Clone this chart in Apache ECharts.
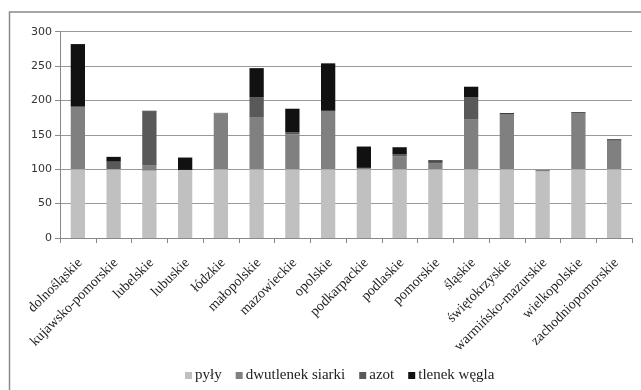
<!DOCTYPE html>
<html><head><meta charset="utf-8">
<script src="https://cdn.jsdelivr.net/npm/echarts@6/dist/echarts.min.js"></script>
<style>html,body{margin:0;padding:0;background:#fff}#c{width:641px;height:390px}</style>
</head><body><div id="c"></div>
<script>
const categories = ['dolnośląskie','kujawsko-pomorskie','lubelskie','lubuskie','łódzkie','małopolskie','mazowieckie','opolskie','podkarpackie','podlaskie','pomorskie','śląskie','świętokrzyskie','warmińsko-mazurskie','wielkopolskie','zachodniopomorskie'];
const seriesNames = ['pyły','dwutlenek siarki','azot','tlenek węgla'];
const pyly   = [100, 100, 98, 99, 100, 100, 100, 100, 100, 100, 100, 100, 100, 97, 100, 100];
const siarka = [91, 0, 8, 0, 81, 75, 51, 85, 2, 19, 9, 73, 80, 2, 82, 42];
const azot   = [0, 11, 78, 0, 1, 30, 3, 0, 0, 3, 2, 32, 0, 0, 0, 0];
const wegiel = [91, 7, 1, 18, 0, 42, 34, 69, 31, 10, 2, 15, 1.5, 0, 1, 1.5];
const yTicks = [0, 50, 100, 150, 200, 250, 300];
const colors = ['#c0c0c0','#808080','#595959','#111111'];

const chart = echarts.init(document.getElementById('c'), null, {renderer:'canvas'});
const dataSets = [pyly, siarka, azot, wegiel];
chart.setOption({
  animation:false,
  graphic:[{type:'rect',shape:{x:9.5,y:12,width:640,height:400},style:{fill:null,stroke:'#8a8a8a',lineWidth:1.5},silent:true}],
  grid:{left:60,right:9,top:31.7,bottom:152},
  legend:{left:180,top:363,itemWidth:7,itemHeight:7,itemGap:14,icon:'rect',
    textStyle:{fontFamily:'Liberation Serif',fontSize:15,color:'#222',padding:[0,0,0,-2]},
    data:seriesNames},
  xAxis:{type:'category',data:categories,
    axisLine:{lineStyle:{color:'#888'}},
    axisTick:{show:true,length:5,alignWithLabel:false,lineStyle:{color:'#888'}},
    axisLabel:{rotate:45,interval:0,fontFamily:'Liberation Serif',fontSize:14,color:'#222',margin:15,
      align:'right',verticalAlign:'top',padding:[0,4,0,0]}},
  yAxis:{type:'value',min:0,max:300,interval:50,
    axisLine:{show:true,lineStyle:{color:'#888'}},
    axisTick:{show:true,length:5,lineStyle:{color:'#888'}},
    splitLine:{lineStyle:{color:'#999'}},
    axisLabel:{fontFamily:'DejaVu Sans',fontSize:11,color:'#333',margin:8,
      formatter:v=>yTicks.includes(v)?String(v):''}},
  series:seriesNames.map((n,i)=>({name:n,type:'bar',stack:'s',data:dataSets[i],barWidth:'40%',
    itemStyle:{color:colors[i]}}))
});
</script></body></html>
